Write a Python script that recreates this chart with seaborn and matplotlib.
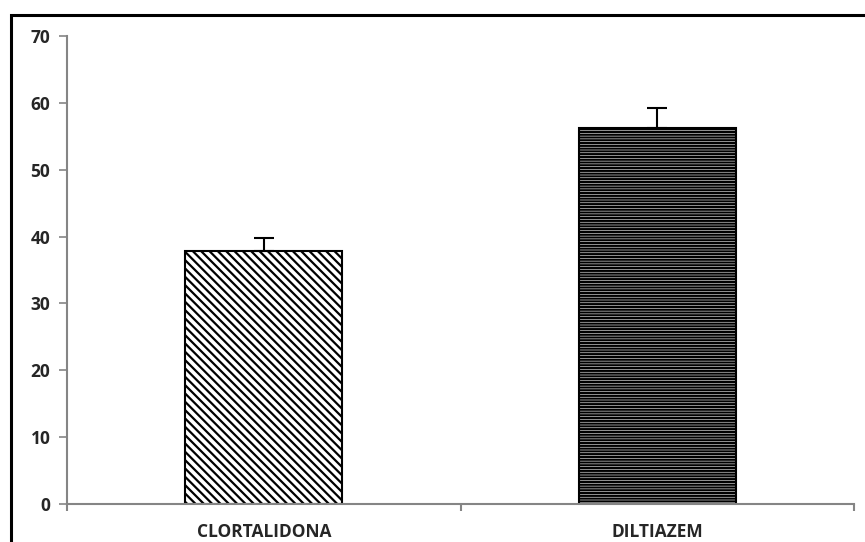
import numpy as np
import pandas as pd
import matplotlib
matplotlib.use('Agg')
import matplotlib.pyplot as plt
import seaborn as sns
from matplotlib.patches import Rectangle

categories = ['CLORTALIDONA', 'DILTIAZEM']
means = [37.8, 56.2]
errors = [2.0, 3.0]
hatches = ['\\\\\\\\', '------']
yticks = [0, 10, 20, 30, 40, 50, 60, 70]

sns.set_style('white')
plt.rcParams['font.family'] = ['Open Sans', 'DejaVu Sans']
plt.rcParams['hatch.linewidth'] = 1.6

df = pd.DataFrame({'group': categories, 'value': means})

fig = plt.figure(figsize=(8.65, 5.42), dpi=100)
ax = fig.add_axes([67 / 865, 1 - 504 / 542, (854 - 67) / 865, (504 - 36) / 542])

sns.barplot(data=df, x='group', y='value', ax=ax, width=0.4, color='white',
            edgecolor='black', linewidth=1.5, errorbar=None)
for bar, h in zip(ax.patches, hatches):
    bar.set_hatch(h)

# upper error bars only
pos = np.arange(len(categories))
ax.errorbar(pos, means, yerr=[np.zeros(len(errors)), errors], fmt='none',
            ecolor='black', elinewidth=1.5, capsize=7, capthick=1.5)

ax.set_xlim(-0.5, 1.5)
ax.set_ylim(0, 70)
ax.set_yticks(yticks)
ax.set_xlabel('')
ax.set_ylabel('')

for side in ['top', 'right']:
    ax.spines[side].set_visible(False)
for side in ['left', 'bottom']:
    ax.spines[side].set_color('#858585')
    ax.spines[side].set_linewidth(1.5)

ax.set_xticks([-0.5, 0.5, 1.5], minor=True)
ax.tick_params(axis='x', which='major', bottom=False, length=0, pad=14)
ax.tick_params(axis='x', which='minor', bottom=True, length=5, width=1.5,
               color='#858585', direction='out')
ax.tick_params(axis='y', left=True, length=6, width=1.2, color='#858585',
               direction='out', pad=6)
for lab in ax.get_xticklabels():
    lab.set_fontweight('bold')
    lab.set_fontsize(12.5)
for lab in ax.get_yticklabels():
    lab.set_fontweight('bold')
    lab.set_fontsize(12.5)

# outer black frame of the chart area
fig.patches.append(Rectangle((11 / 865, -0.1), 1.2, 1 - 15 / 542 + 0.1,
                             transform=fig.transFigure, fill=False,
                             edgecolor='black', linewidth=2.2, zorder=0))

fig.savefig('out.png', dpi=100)
